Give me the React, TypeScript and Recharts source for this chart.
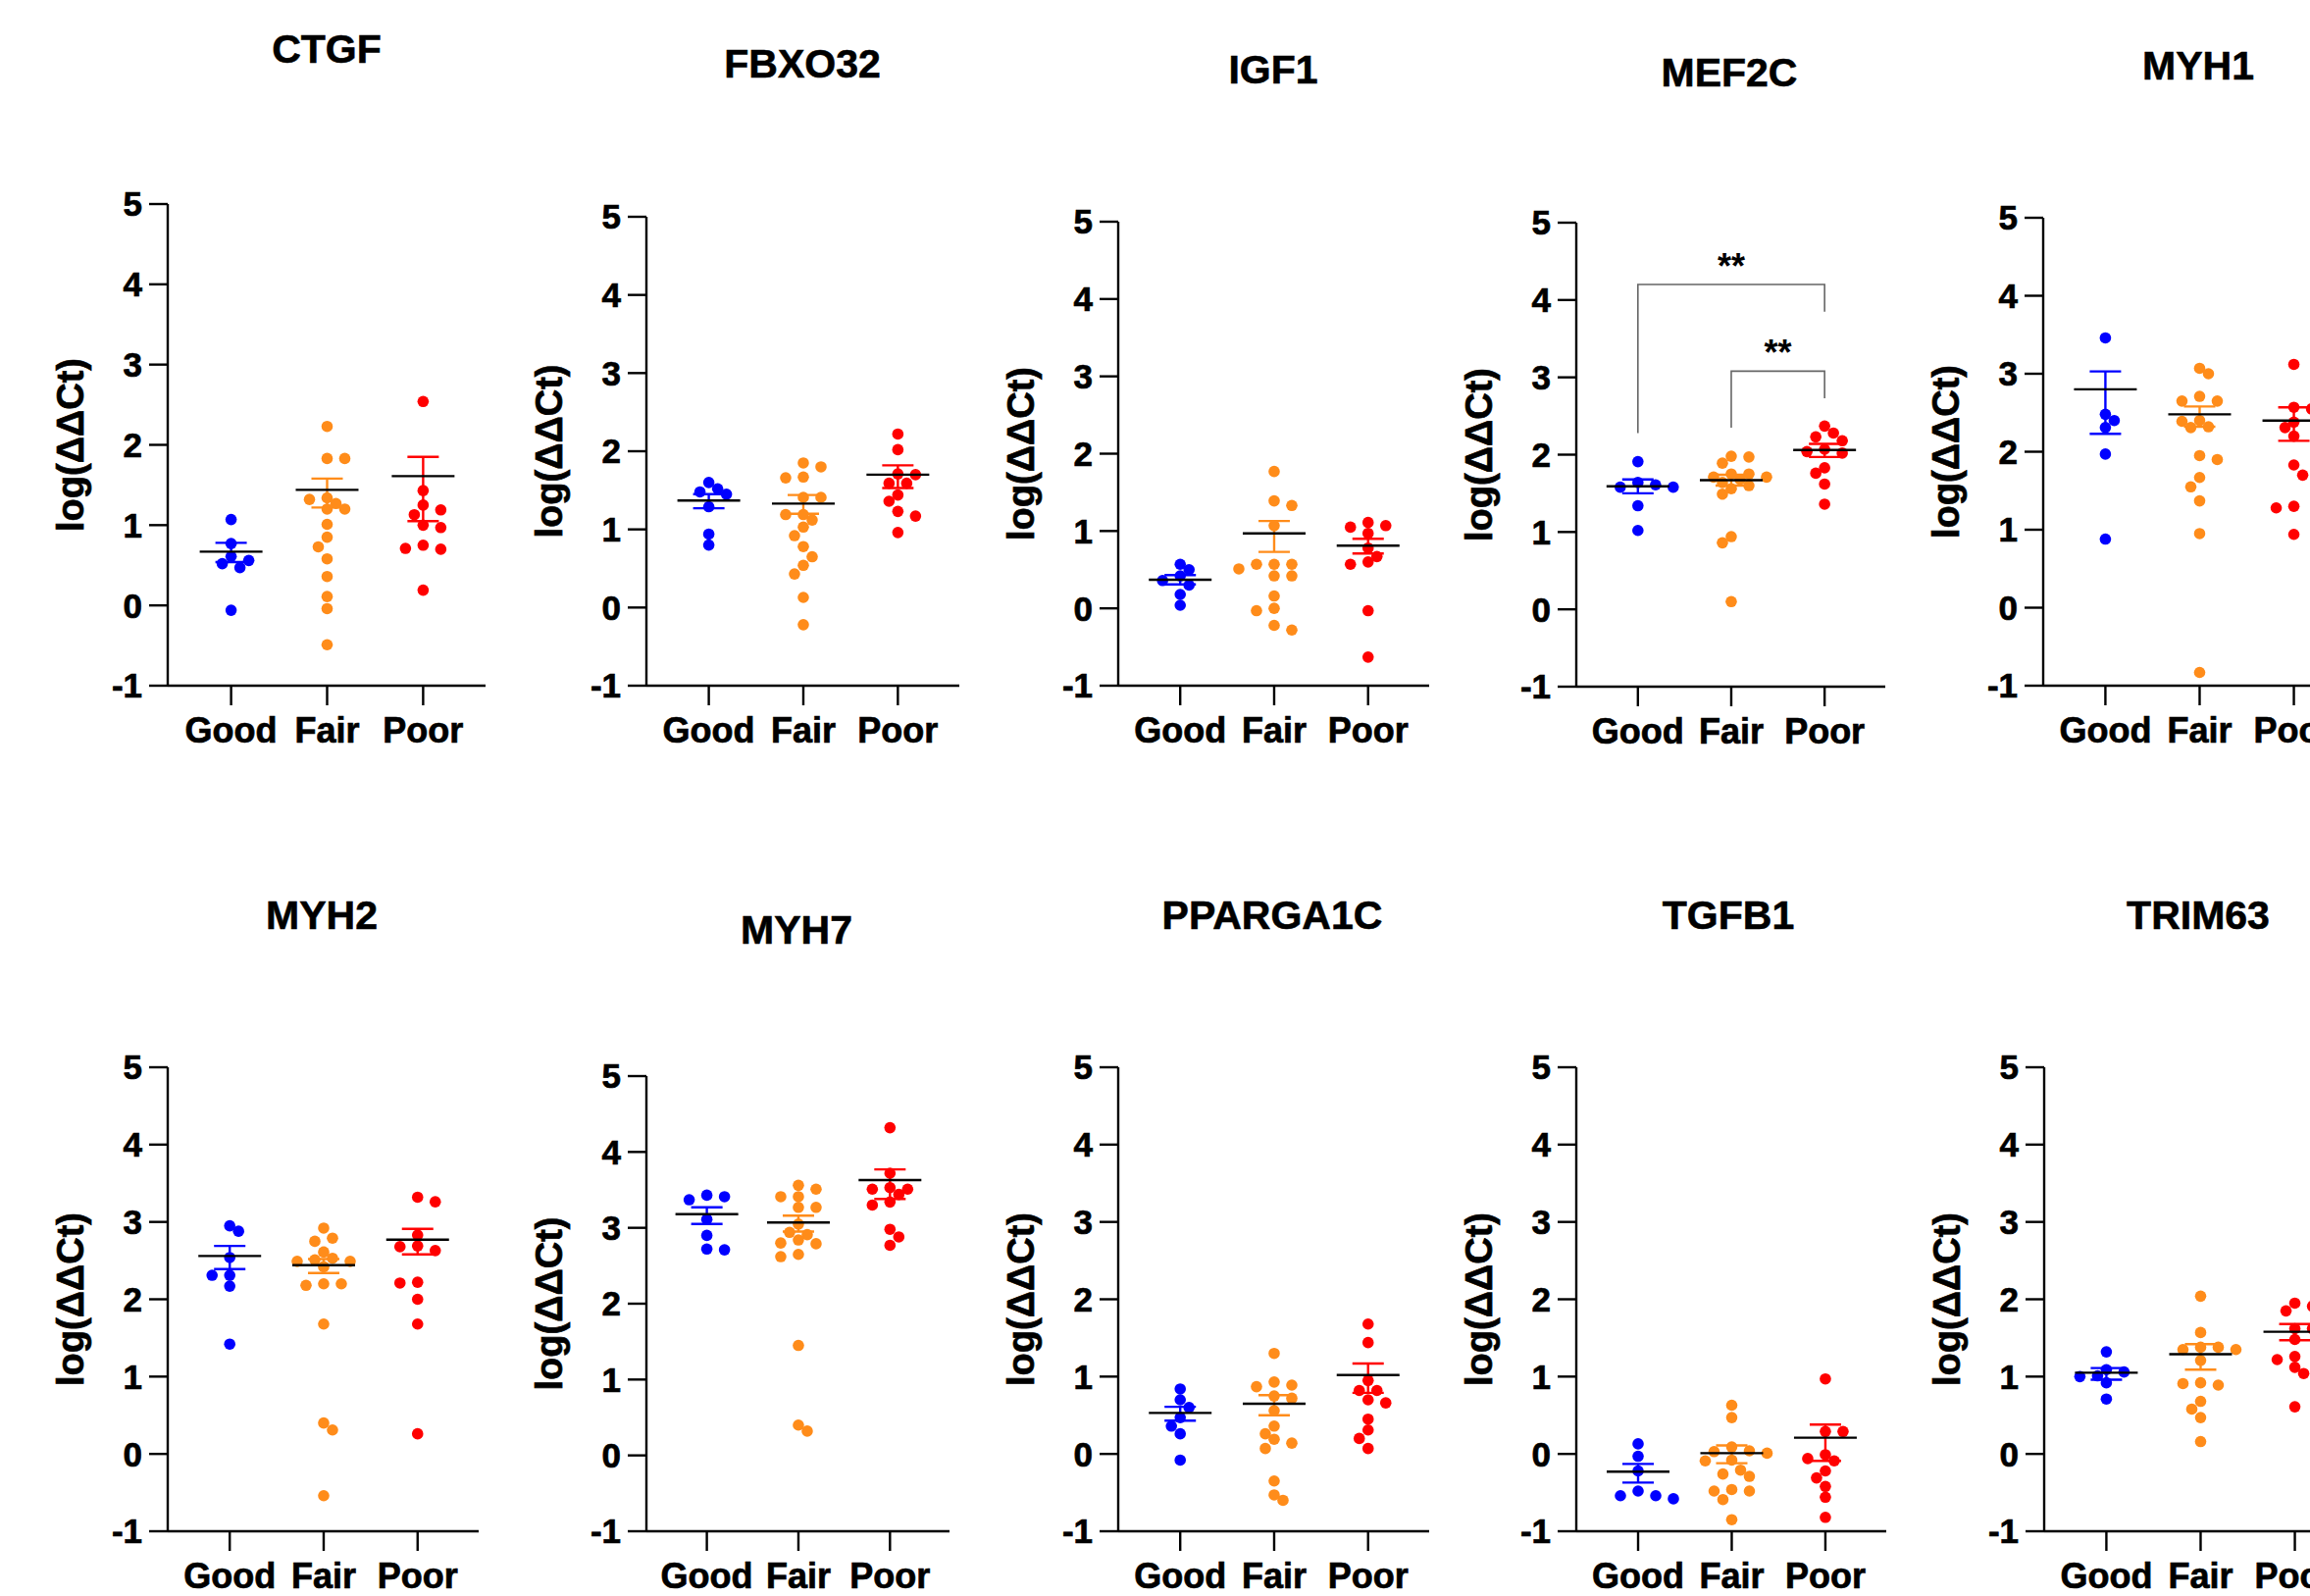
import React from "react";
import { ComposedChart, Scatter, Line, XAxis, YAxis, ErrorBar, Label } from "recharts";

const groups = ["Good", "Fair", "Poor"];
const groupColors = ["#0000ff", "#ff8c1a", "#ff0000"];
const yTicks = [-1, 0, 1, 2, 3, 4, 5];
const yLabel = "log(ΔΔCt)";

// CTGF
const ctgfGood = [1.07, 0.77, 0.61, 0.56, 0.52, 0.47, -0.06];
const ctgfFair = [2.23, 1.83, 1.83, 1.34, 1.32, 1.27, 1.2, 1.2, 1.01, 0.85, 0.73, 0.58, 0.36, 0.11, -0.04, -0.49];
const ctgfPoor = [2.54, 1.43, 1.25, 1.19, 1.13, 1.0, 0.97, 0.75, 0.71, 0.7, 0.19];
const ctgfMean = [0.67, 1.44, 1.61];
const ctgfHigh = [0.78, 1.58, 1.85];
const ctgfLow = [0.54, 1.22, 1.05];

// FBXO32
const fbxo32Good = [1.6, 1.52, 1.48, 1.45, 1.29, 0.94, 0.8];
const fbxo32Fair = [1.85, 1.8, 1.67, 1.66, 1.41, 1.41, 1.19, 1.19, 1.12, 1.03, 0.92, 0.78, 0.65, 0.54, 0.43, 0.13, -0.22];
const fbxo32Poor = [2.22, 2.02, 1.71, 1.7, 1.59, 1.59, 1.44, 1.36, 1.23, 1.17, 0.96];
const fbxo32Mean = [1.37, 1.33, 1.7];
const fbxo32High = [1.45, 1.44, 1.82];
const fbxo32Low = [1.27, 1.2, 1.53];

// IGF1
const igf1Good = [0.57, 0.5, 0.42, 0.36, 0.3, 0.18, 0.04];
const igf1Fair = [1.77, 1.39, 1.33, 1.07, 0.57, 0.57, 0.57, 0.51, 0.42, 0.42, 0.16, 0.0, -0.03, -0.22, -0.28];
const igf1Poor = [1.11, 1.07, 1.05, 0.97, 0.78, 0.67, 0.6, 0.57, -0.03, -0.63];
const igf1Mean = [0.37, 0.97, 0.81];
const igf1High = [0.43, 1.13, 0.9];
const igf1Low = [0.31, 0.73, 0.71];

// MEF2C
const mef2cGood = [1.91, 1.64, 1.61, 1.58, 1.58, 1.34, 1.02];
const mef2cFair = [1.98, 1.97, 1.89, 1.75, 1.75, 1.71, 1.71, 1.68, 1.64, 1.6, 1.56, 1.49, 0.94, 0.86, 0.1];
const mef2cPoor = [2.37, 2.28, 2.23, 2.18, 2.07, 2.04, 2.02, 1.83, 1.76, 1.62, 1.36];
const mef2cMean = [1.59, 1.67, 2.06];
const mef2cHigh = [1.68, 1.74, 2.14];
const mef2cLow = [1.5, 1.6, 1.97];

// MYH1
const myh1Good = [3.46, 2.48, 2.4, 2.31, 1.97, 0.88];
const myh1Fair = [3.07, 3.0, 2.71, 2.65, 2.65, 2.4, 2.39, 2.32, 2.31, 1.95, 1.9, 1.67, 1.55, 1.37, 0.95, -0.83];
const myh1Poor = [3.12, 2.57, 2.55, 2.38, 2.31, 2.2, 1.83, 1.7, 1.3, 1.28, 0.94];
const myh1Mean = [2.8, 2.48, 2.4];
const myh1High = [3.03, 2.58, 2.57];
const myh1Low = [2.23, 2.32, 2.14];

// MYH2
const myh2Good = [2.95, 2.88, 2.54, 2.31, 2.31, 2.17, 1.42];
const myh2Fair = [2.92, 2.79, 2.75, 2.61, 2.53, 2.51, 2.49, 2.49, 2.42, 2.2, 2.2, 2.18, 1.68, 0.4, 0.31, -0.54];
const myh2Poor = [3.32, 3.26, 2.83, 2.69, 2.68, 2.63, 2.22, 2.21, 2.0, 1.68, 0.26];
const myh2Mean = [2.56, 2.44, 2.77];
const myh2High = [2.69, 2.52, 2.91];
const myh2Low = [2.39, 2.34, 2.58];

// MYH7
const myh7Good = [3.43, 3.41, 3.37, 3.11, 2.9, 2.72, 2.71];
const myh7Fair = [3.56, 3.51, 3.41, 3.41, 3.27, 3.27, 3.05, 2.94, 2.91, 2.84, 2.8, 2.79, 2.65, 2.62, 1.45, 0.4, 0.32];
const myh7Poor = [4.32, 3.72, 3.53, 3.51, 3.51, 3.44, 3.34, 3.3, 2.98, 2.88, 2.77];
const myh7Mean = [3.18, 3.07, 3.63];
const myh7High = [3.27, 3.16, 3.77];
const myh7Low = [3.05, 2.95, 3.38];

// PPARGA1C
const pparGood = [0.84, 0.7, 0.6, 0.47, 0.36, 0.26, -0.08];
const pparFair = [1.3, 0.93, 0.89, 0.87, 0.75, 0.72, 0.56, 0.36, 0.26, 0.19, 0.14, 0.07, -0.35, -0.53, -0.6];
const pparPoor = [1.68, 1.44, 0.95, 0.82, 0.82, 0.7, 0.66, 0.45, 0.31, 0.2, 0.07];
const pparMean = [0.53, 0.65, 1.02];
const pparHigh = [0.61, 0.76, 1.17];
const pparLow = [0.43, 0.5, 0.79];

// TGFB1
const tgfb1Good = [0.13, -0.03, -0.22, -0.48, -0.54, -0.54, -0.58];
const tgfb1Fair = [0.63, 0.47, 0.09, 0.04, 0.03, 0.01, -0.08, -0.09, -0.21, -0.26, -0.29, -0.46, -0.48, -0.48, -0.59, -0.85];
const tgfb1Poor = [0.97, 0.29, 0.29, -0.01, -0.06, -0.09, -0.22, -0.31, -0.42, -0.56, -0.82];
const tgfb1Mean = [-0.23, 0.01, 0.21];
const tgfb1High = [-0.13, 0.11, 0.38];
const tgfb1Low = [-0.37, -0.12, -0.09];

// TRIM63
const trim63Good = [1.32, 1.09, 1.06, 1.01, 1.0, 0.92, 0.71];
const trim63Fair = [2.04, 1.57, 1.38, 1.38, 1.35, 1.35, 1.21, 0.92, 0.91, 0.89, 0.68, 0.58, 0.47, 0.16];
const trim63Poor = [1.95, 1.91, 1.85, 1.62, 1.62, 1.48, 1.26, 1.22, 1.12, 1.04, 0.61];
const trim63Mean = [1.05, 1.29, 1.58];
const trim63High = [1.11, 1.42, 1.68];
const trim63Low = [0.96, 1.09, 1.47];

// MEF2C significance brackets (group index 1..3, y values)
const mef2cSig = [
  { from: 1, to: 3, top: 4.2, legFrom: 2.28, legTo: 3.85, label: "**", labelY: 4.54 },
  { from: 2, to: 3, top: 3.08, legFrom: 2.35, legTo: 2.73, label: "**", labelY: 3.43 },
];

const genes = [
  { name: "CTGF", values: [ctgfGood, ctgfFair, ctgfPoor], mean: ctgfMean, high: ctgfHigh, low: ctgfLow, sig: [] },
  { name: "FBXO32", values: [fbxo32Good, fbxo32Fair, fbxo32Poor], mean: fbxo32Mean, high: fbxo32High, low: fbxo32Low, sig: [] },
  { name: "IGF1", values: [igf1Good, igf1Fair, igf1Poor], mean: igf1Mean, high: igf1High, low: igf1Low, sig: [] },
  { name: "MEF2C", values: [mef2cGood, mef2cFair, mef2cPoor], mean: mef2cMean, high: mef2cHigh, low: mef2cLow, sig: mef2cSig },
  { name: "MYH1", values: [myh1Good, myh1Fair, myh1Poor], mean: myh1Mean, high: myh1High, low: myh1Low, sig: [] },
  { name: "MYH2", values: [myh2Good, myh2Fair, myh2Poor], mean: myh2Mean, high: myh2High, low: myh2Low, sig: [] },
  { name: "MYH7", values: [myh7Good, myh7Fair, myh7Poor], mean: myh7Mean, high: myh7High, low: myh7Low, sig: [] },
  { name: "PPARGA1C", values: [pparGood, pparFair, pparPoor], mean: pparMean, high: pparHigh, low: pparLow, sig: [] },
  { name: "TGFB1", values: [tgfb1Good, tgfb1Fair, tgfb1Poor], mean: tgfb1Mean, high: tgfb1High, low: tgfb1Low, sig: [] },
  { name: "TRIM63", values: [trim63Good, trim63Fair, trim63Poor], mean: trim63Mean, high: trim63High, low: trim63Low, sig: [] },
];

// page layout of each panel: y-axis x position, plot width, plot top/bottom, title centre and baseline
const layouts = [
  { axisX: 171, plotW: 324, top: 208, bottom: 699, titleX: 333, titleBase: 65 },
  { axisX: 659, plotW: 319, top: 221, bottom: 699, titleX: 818, titleBase: 80 },
  { axisX: 1140, plotW: 317, top: 226, bottom: 699, titleX: 1298, titleBase: 86 },
  { axisX: 1607, plotW: 315, top: 227, bottom: 700, titleX: 1763, titleBase: 89 },
  { axisX: 2083, plotW: 318, top: 222, bottom: 699, titleX: 2241, titleBase: 82 },
  { axisX: 171, plotW: 317, top: 1088, bottom: 1561, titleX: 328, titleBase: 948 },
  { axisX: 659, plotW: 309, top: 1097, bottom: 1561, titleX: 812, titleBase: 963 },
  { axisX: 1140, plotW: 317, top: 1088, bottom: 1561, titleX: 1297, titleBase: 948 },
  { axisX: 1607, plotW: 316, top: 1088, bottom: 1561, titleX: 1762, titleBase: 948 },
  { axisX: 2084, plotW: 318, top: 1088, bottom: 1561, titleX: 2241, titleBase: 948 },
];

const FONT = "'Liberation Sans', Arial, Helvetica, sans-serif";
const X_MIN = 0.34;
const X_MAX = 3.65;
const YW = 150; // y axis area width
const MT = 30;
const XH = 80;

// simple beeswarm: spread overlapping dots sideways on a 9px grid
function swarm(values: number[], center: number, pxPerX: number, pxPerY: number) {
  const step = 9;
  const minD = 10.5;
  const placed: { dx: number; py: number }[] = [];
  const order = values.map((_, i) => i).sort((a, b) => values[b] - values[a]);
  const out: { x: number; y: number }[] = new Array(values.length);
  let bias = 0;
  for (const i of order) {
    const py = values[i] * pxPerY;
    const free = (dx: number) => placed.every((p) => Math.hypot(p.dx - dx, p.py - py) >= minD);
    let dx = 0;
    if (!free(0)) {
      for (let k = 1; k < 30; k++) {
        const r = free(k * step);
        const l = free(-k * step);
        if (r && l) {
          dx = bias > 0 ? -k * step : k * step;
          break;
        }
        if (r) {
          dx = k * step;
          break;
        }
        if (l) {
          dx = -k * step;
          break;
        }
      }
    }
    bias += Math.sign(dx);
    placed.push({ dx, py });
    out[i] = { x: center + dx / pxPerX, y: values[i] };
  }
  return out;
}

const Dot = (color: string) => (p: any) => <circle cx={p.cx} cy={p.cy} r={5.8} fill={color} />;

const MeanLine = (p: any) => (
  <line x1={p.cx - 32} x2={p.cx + 32} y1={p.cy} y2={p.cy} stroke="#000" strokeWidth={2.4} />
);

const Stars = (p: any) => (
  <text x={p.cx} y={p.cy + 21} textAnchor="middle" fontSize={36} fontWeight={700} fontFamily={FONT} fill="#000">
    {p.payload.label}
  </text>
);

function YLabel(props: any) {
  const { x, y, width, height } = props.viewBox;
  const cx = x + width - 99;
  const cy = y + height / 2;
  return (
    <text
      x={cx}
      y={cy}
      transform={`rotate(-90 ${cx} ${cy})`}
      textAnchor="middle"
      dominantBaseline="central"
      fontSize={38}
      fontWeight={700}
      fontFamily={FONT}
      fill="#000"
      stroke="#000"
      strokeWidth={0.7}
    >
      {yLabel}
    </text>
  );
}

function Panel({ gene, layout }: { gene: any; layout: any }) {
  const plotH = layout.bottom - layout.top;
  const W = YW + layout.plotW + 4;
  const H = MT + plotH + XH;
  const pxPerX = layout.plotW / (X_MAX - X_MIN);
  const pxPerY = plotH / 6;
  const axisStyle = { stroke: "#000", strokeWidth: 2.4 };
  const tickText = { fill: "#000", fontWeight: 700, fontFamily: FONT, stroke: "#000", strokeWidth: 0.7 };

  return (
    <>
      <div
        style={{
          position: "absolute",
          left: layout.titleX - 200,
          top: layout.titleBase - 35,
          width: 400,
          textAlign: "center",
          fontFamily: FONT,
          fontWeight: 700,
          fontSize: 41,
          lineHeight: "41px",
          color: "#000",
          WebkitTextStroke: "0.6px #000",
        }}
      >
        {gene.name}
      </div>
      <div style={{ position: "absolute", left: layout.axisX - YW, top: layout.top - MT }}>
        <ComposedChart width={W} height={H} margin={{ top: MT, right: 4, bottom: 0, left: 0 }}>
          <XAxis
            type="number"
            dataKey="x"
            domain={[X_MIN, X_MAX]}
            ticks={[1, 2, 3]}
            interval={0}
            allowDataOverflow
            tickFormatter={(v: number) => groups[v - 1]}
            axisLine={axisStyle}
            tickLine={axisStyle}
            tickSize={20}
            tickMargin={12}
            height={XH}
            tick={{ ...tickText, fontSize: 36 }}
          />
          <YAxis
            type="number"
            dataKey="y"
            domain={[-1, 5]}
            ticks={yTicks}
            interval={0}
            allowDataOverflow
            width={YW}
            axisLine={axisStyle}
            tickLine={axisStyle}
            tickSize={19}
            tickMargin={7}
            tick={{ ...tickText, fontSize: 35 }}
          >
            <Label content={YLabel} />
          </YAxis>
          {gene.values.map((vals: number[], g: number) => (
            <Scatter
              key={`dots-${g}`}
              data={swarm(vals, g + 1, pxPerX, pxPerY)}
              shape={Dot(groupColors[g])}
              isAnimationActive={false}
            />
          ))}
          {gene.mean.map((m: number, g: number) => (
            <Scatter
              key={`mean-${g}`}
              data={[{ x: g + 1, y: m, e: [m - gene.low[g], gene.high[g] - m] }]}
              shape={MeanLine}
              isAnimationActive={false}
            >
              <ErrorBar dataKey="e" direction="y" width={16} stroke={groupColors[g]} strokeWidth={2.4} />
            </Scatter>
          ))}
          {gene.sig.map((s: any, i: number) => (
            <Line
              key={`br-${i}`}
              data={[
                { x: s.from, y: s.legFrom },
                { x: s.from, y: s.top },
                { x: s.to, y: s.top },
                { x: s.to, y: s.legTo },
              ]}
              dataKey="y"
              type="linear"
              stroke="#666"
              strokeWidth={1.6}
              dot={false}
              activeDot={false}
              isAnimationActive={false}
            />
          ))}
          {gene.sig.length > 0 && (
            <Scatter
              data={gene.sig.map((s: any) => ({ x: (s.from + s.to) / 2, y: s.labelY, label: s.label }))}
              shape={Stars}
              isAnimationActive={false}
            />
          )}
        </ComposedChart>
      </div>
    </>
  );
}

export default function App() {
  return (
    <div
      style={{
        position: "fixed",
        left: 0,
        top: 0,
        width: 2355,
        height: 1627,
        overflow: "hidden",
        background: "#fff",
      }}
    >
      {genes.map((g, i) => (
        <Panel key={g.name} gene={g} layout={layouts[i]} />
      ))}
    </div>
  );
}
